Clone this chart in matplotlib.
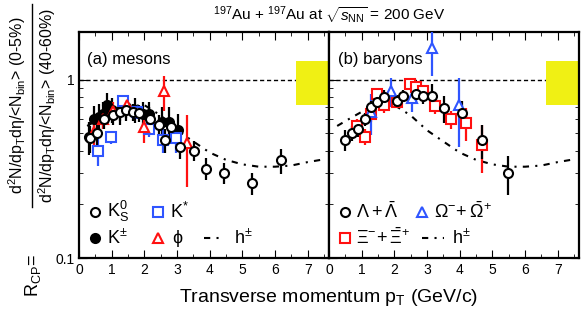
import matplotlib
matplotlib.use("Agg")
import matplotlib.pyplot as plt
from matplotlib.lines import Line2D

plt.rcParams['font.family'] = ['Liberation Sans', 'DejaVu Sans']
plt.rcParams['mathtext.fontset'] = 'custom'
plt.rcParams['mathtext.rm'] = 'Liberation Sans'
plt.rcParams['mathtext.it'] = 'Liberation Sans:italic'
plt.rcParams['mathtext.bf'] = 'Liberation Sans:bold'
plt.rcParams['mathtext.sf'] = 'Liberation Sans'

# ---- (a) mesons ----
ks0_pt = [0.35, 0.55, 0.75, 1.05, 1.25, 1.45, 1.66, 1.84, 2.17, 2.46, 2.63, 2.83, 3.09, 3.52, 3.9, 4.43, 5.28, 6.18]
ks0_r = [0.47, 0.50, 0.60, 0.63, 0.66, 0.68, 0.66, 0.65, 0.60, 0.56, 0.46, 0.54, 0.42, 0.40, 0.317, 0.30, 0.263, 0.353]
ks0_err = [0.08, 0.07, 0.07, 0.07, 0.07, 0.07, 0.07, 0.07, 0.07, 0.07, 0.07, 0.06, 0.06, 0.05, 0.045, 0.04, 0.038, 0.058]

kpm_pt = [0.3, 0.46, 0.6, 0.72, 0.87, 1.0, 1.25, 1.45, 1.7, 1.95, 2.15, 2.53, 2.75, 3.04]
kpm_r = [0.48, 0.60, 0.62, 0.64, 0.72, 0.68, 0.67, 0.70, 0.68, 0.64, 0.64, 0.58, 0.58, 0.52]
kpm_err = [0.1, 0.11, 0.11, 0.11, 0.12, 0.11, 0.11, 0.11, 0.11, 0.11, 0.11, 0.12, 0.12, 0.12]

kstar_pt = [0.59, 0.98, 1.36, 1.76, 2.15, 2.58, 2.96]
kstar_r = [0.40, 0.476, 0.76, 0.66, 0.53, 0.46, 0.47]
kstar_err = [0.07, 0.04, 0.06, 0.06, 0.05, 0.07, 0.08]

phi_pt = [0.46, 0.72, 1.05, 1.46, 2.0, 2.61, 3.31]
phi_r = [0.51, 0.60, 0.67, 0.72, 0.54, 0.86, 0.44]
phi_err = [0.1, 0.07, 0.08, 0.08, 0.1, 0.19, 0.19]

# ---- (b) baryons ----
lam_pt = [0.49, 0.69, 0.89, 1.1, 1.27, 1.48, 1.68, 2.09, 2.26, 2.67, 2.87, 3.14, 3.52, 4.06, 4.69, 5.48]
lam_r = [0.46, 0.50, 0.53, 0.60, 0.70, 0.75, 0.80, 0.76, 0.81, 0.83, 0.81, 0.81, 0.69, 0.65, 0.46, 0.30]
lam_err = [0.06, 0.05, 0.05, 0.05, 0.06, 0.06, 0.07, 0.06, 0.06, 0.08, 0.08, 0.13, 0.115, 0.11, 0.1, 0.075]

xi_pt = [0.85, 1.1, 1.3, 1.48, 1.68, 2.09, 2.47, 2.67, 2.87, 3.24, 3.72, 4.2, 4.69]
xi_r = [0.55, 0.48, 0.64, 0.83, 0.72, 0.75, 0.94, 0.91, 0.86, 0.71, 0.60, 0.57, 0.43]
xi_err = [0.05, 0.05, 0.06, 0.07, 0.07, 0.06, 0.06, 0.07, 0.07, 0.07, 0.07, 0.12, 0.13]

om_pt = [1.3, 1.9, 2.55, 3.16, 3.97]
om_r = [0.66, 0.86, 0.79, 1.50, 0.72]
om_err = [0.17, 0.16, 0.13, 0.45, 0.3]

# charged hadrons reference curve
h_pt = [0.25, 0.6, 1.0, 1.5, 2.0, 2.5, 3.0, 3.5, 4.0, 4.5, 5.0, 5.5, 6.0, 6.5, 7.0, 7.4]
h_r = [0.55, 0.60, 0.66, 0.71, 0.72, 0.63, 0.52, 0.45, 0.39, 0.355, 0.335, 0.325, 0.325, 0.33, 0.345, 0.355]

# normalisation uncertainty band
band_lo, band_hi = 0.725, 1.27

BLUE = '#2f55ff'
RED = '#ff1010'
YELLOW = '#f0f014'
HDASH = (0, (3, 3, 1, 3))
MS = 6.5

fig = plt.figure(figsize=(5.81, 3.18), dpi=100)
ax1 = fig.add_axes([79 / 581, 60 / 318, 250 / 581, 226 / 318])
ax2 = fig.add_axes([329 / 581, 60 / 318, 250 / 581, 226 / 318])


def series(ax, pt, r, err, marker, color, fill):
    ax.errorbar(pt, r, yerr=err, fmt=marker, color=color, ecolor=color,
                mfc=color if fill else 'white', mec=color, ms=MS, mew=1.5,
                elinewidth=1.6, capsize=0, zorder=3)


for ax in (ax1, ax2):
    ax.set_yscale('log')
    ax.set_xlim(0, 7.65)
    ax.set_ylim(0.1, 1.85)
    ax.axhline(1, color='black', lw=1, dashes=(3, 2), zorder=1)
    ax.fill_between([6.65, 7.65], band_lo, band_hi, color=YELLOW, lw=0, zorder=2)
    ax.plot(h_pt, h_r, color='black', lw=1.5, linestyle=HDASH, zorder=2)
    ax.set_xticks(range(8))
    ax.set_xticks([i + 0.5 for i in range(8)], minor=True)
    ax.set_yticks([0.1, 1])
    ax.tick_params(which='both', direction='in', top=True, right=True, labelsize=10)
    ax.tick_params(which='major', length=6)
    ax.tick_params(which='minor', length=3)
    for s in ax.spines.values():
        s.set_linewidth(1.6)

ax1.set_yticklabels(['0.1', '1'])
ax1.yaxis.set_minor_formatter(matplotlib.ticker.NullFormatter())
ax2.set_yticklabels([])
ax2.yaxis.set_minor_formatter(matplotlib.ticker.NullFormatter())

series(ax1, kpm_pt, kpm_r, kpm_err, 'o', 'black', True)
series(ax1, kstar_pt, kstar_r, kstar_err, 's', BLUE, False)
series(ax1, phi_pt, phi_r, phi_err, '^', RED, False)
series(ax1, ks0_pt, ks0_r, ks0_err, 'o', 'black', False)

series(ax2, xi_pt, xi_r, xi_err, 's', RED, False)
series(ax2, om_pt, om_r, om_err, '^', BLUE, False)
series(ax2, lam_pt, lam_r, lam_err, 'o', 'black', False)

ax1.text(0.03, 0.86, '(a) mesons', transform=ax1.transAxes, fontsize=12)
ax2.text(0.035, 0.86, '(b) baryons', transform=ax2.transAxes, fontsize=12)


def leg_marker(ax, x, y, marker, color, fill):
    ax.plot([x], [y], marker=marker, color=color, mfc=color if fill else 'white',
            mec=color, ms=MS, mew=1.5, transform=ax.transAxes, clip_on=False)


def leg_line(ax, x0, x1, y):
    ax.plot([x0, x1], [y, y], color='black', lw=1.5, linestyle=HDASH,
            transform=ax.transAxes)


LFS = 13
leg_marker(ax1, 0.064, 0.205, 'o', 'black', False)
ax1.text(0.11, 0.205, r'K$^0_\mathrm{S}$', transform=ax1.transAxes, fontsize=LFS, va='center')
leg_marker(ax1, 0.064, 0.088, 'o', 'black', True)
ax1.text(0.11, 0.088, r'K$^{\pm}$', transform=ax1.transAxes, fontsize=LFS, va='center')
leg_marker(ax1, 0.316, 0.205, 's', BLUE, False)
ax1.text(0.365, 0.205, r'K$^{*}$', transform=ax1.transAxes, fontsize=LFS, va='center')
leg_marker(ax1, 0.316, 0.088, '^', RED, False)
ax1.text(0.372, 0.088, r'ϕ', transform=ax1.transAxes, fontsize=LFS, va='center')
leg_line(ax1, 0.5, 0.575, 0.088)
ax1.text(0.62, 0.088, r'h$^{\pm}$', transform=ax1.transAxes, fontsize=LFS, va='center')

leg_marker(ax2, 0.064, 0.205, 'o', 'black', False)
ax2.text(0.11, 0.205, r'$\Lambda+\bar{\Lambda}$', transform=ax2.transAxes, fontsize=LFS, va='center')
leg_marker(ax2, 0.372, 0.205, '^', BLUE, False)
ax2.text(0.42, 0.205, r'$\Omega^{-}\!+\bar{\Omega}^{+}$', transform=ax2.transAxes, fontsize=LFS, va='center')
leg_marker(ax2, 0.064, 0.088, 's', RED, False)
ax2.text(0.11, 0.088, r'$\Xi^{-}\!+\bar{\Xi}^{+}$', transform=ax2.transAxes, fontsize=LFS, va='center')
leg_line(ax2, 0.37, 0.46, 0.088)
ax2.text(0.49, 0.088, r'h$^{\pm}$', transform=ax2.transAxes, fontsize=LFS, va='center')

fig.text(329 / 581, 0.955, r'$^{197}$Au + $^{197}$Au at $\sqrt{s_\mathrm{NN}}$ = 200 GeV',
         ha='center', va='center', fontsize=11)
fig.text(329 / 581, 1 - 298 / 318, r'Transverse momentum p$_\mathrm{T}$ (GeV/c)',
         ha='center', va='center', fontsize=14)

# y label: R_CP = numerator / denominator
fig.text(17 / 581, 1 - 105 / 318, r'd$^2$N/dp$_\mathrm{T}$dη/<N$_\mathrm{bin}$> (0-5%)',
         rotation=90, ha='center', va='center', fontsize=11.5)
fig.text(47 / 581, 1 - 105 / 318, r'd$^2$N/dp$_\mathrm{T}$dη/<N$_\mathrm{bin}$> (40-60%)',
         rotation=90, ha='center', va='center', fontsize=11.5)
fig.add_artist(Line2D([32 / 581, 32 / 581], [1 - 4 / 318, 1 - 207 / 318],
                      color='black', lw=1))
fig.text(33 / 581, 1 - 276 / 318, r'R$_\mathrm{CP}$=', rotation=90,
         ha='center', va='center', fontsize=13)

fig.savefig('out.png', dpi=100)
